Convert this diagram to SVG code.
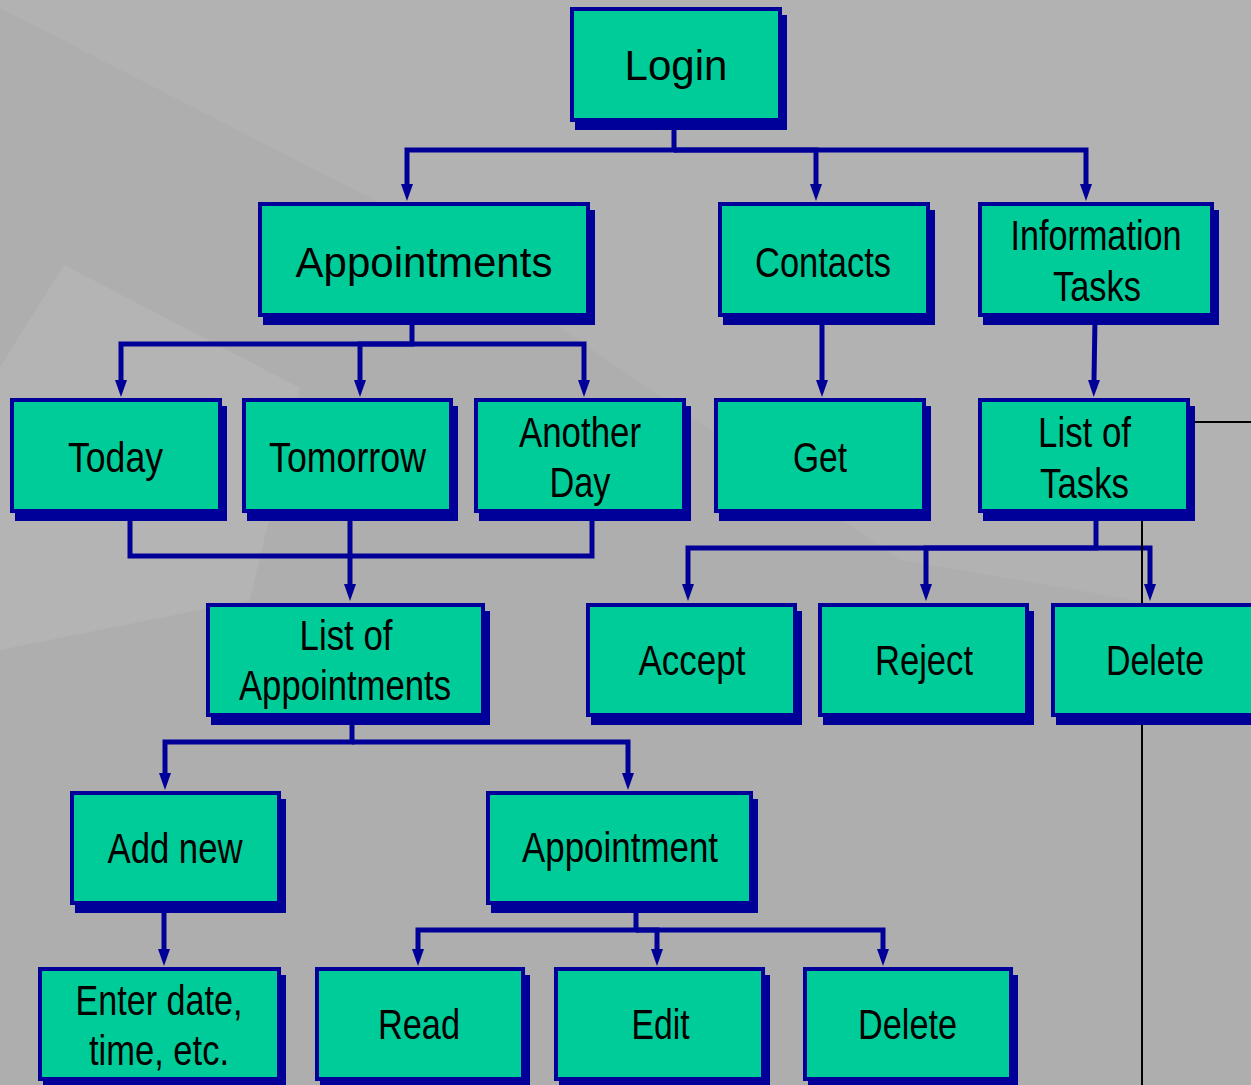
<svg xmlns="http://www.w3.org/2000/svg" width="1251" height="1085" viewBox="0 0 1251 1085">
<defs>
<style>
.bg{fill:#b2b2b2}
.wm{fill:#aeaeae}
.wl{fill:#b4b4b4}
.sh{fill:#000099}
.bx{fill:#00cc99;stroke:#000099;stroke-width:4}
.t{font-family:"Liberation Sans",Arial,sans-serif;font-size:42px;fill:#000;text-anchor:middle}
.c{fill:none;stroke:#000099;stroke-width:5;stroke-linejoin:miter}
.a{marker-end:url(#arr)}
.k{fill:none;stroke:#000;stroke-width:2}
</style>
<marker id="arr" markerUnits="userSpaceOnUse" markerWidth="18" markerHeight="14" viewBox="0 -7 18 14" refX="0" refY="0" orient="auto">
<path d="M0,-6 L17,0 L0,6 Z" fill="#000099"/>
</marker>
</defs>
<rect class="bg" x="0" y="0" width="1251" height="1085"/>
<g id="watermark">
<polygon class="wm" points="0,8 370,198 900,560 1251,620 1251,1085 0,1085"/>
<polygon class="wl" points="64,265 300,388 250,600 0,650 0,367"/>
</g>
<g id="connectors">
<path class="c a" d="M674,125 V150 H407 V184"/>
<path class="c a" d="M674,150 H816 V184"/>
<path class="c a" d="M674,150 H1086 V184"/>
<path class="c a" d="M412,318 V344 H121 V380"/>
<path class="c a" d="M412,344 H360 V380"/>
<path class="c a" d="M412,344 H584 V380"/>
<path class="c a" d="M822,318 V380"/>
<path class="c a" d="M1095,318 L1094,380"/>
<path class="c" d="M130,514 V556 H592 V514"/>
<path class="c a" d="M350,514 V584"/>
<path class="c a" d="M1096,514 V548 H688 V584"/>
<path class="c a" d="M1096,548 H926 V584"/>
<path class="c a" d="M1096,548 H1150 V584"/>
<path class="c a" d="M352,717 V742 H165 V773"/>
<path class="c a" d="M352,742 H628 V773"/>
<path class="c a" d="M164,905 V949"/>
<path class="c a" d="M636,905 V930 H418 V949"/>
<path class="c a" d="M636,930 H657 V949"/>
<path class="c a" d="M636,930 H883 V949"/>
<path class="k" d="M1251,422 H1142 V1085"/>
</g>
<g id="login"><rect class="sh" x="575" y="15" width="212" height="115"/><rect class="bx" x="572" y="9" width="208" height="111"/><text class="t" x="676" y="80" font-size="43">Login</text></g>
<g id="appointments"><rect class="sh" x="263" y="210" width="332" height="115"/><rect class="bx" x="260" y="204" width="328" height="111"/><text class="t" x="424" y="277" font-size="43">Appointments</text></g>
<g id="contacts"><rect class="sh" x="723" y="210" width="212" height="115"/><rect class="bx" x="720" y="204" width="208" height="111"/><text class="t" x="823" y="277" textLength="136" lengthAdjust="spacingAndGlyphs">Contacts</text></g>
<g id="information-tasks"><rect class="sh" x="983" y="210" width="236" height="115"/><rect class="bx" x="980" y="204" width="232" height="111"/><text class="t" x="1096" y="250" textLength="171" lengthAdjust="spacingAndGlyphs">Information</text><text class="t" x="1097" y="301" textLength="88" lengthAdjust="spacingAndGlyphs">Tasks</text></g>
<g id="today"><rect class="sh" x="15" y="406" width="212" height="115"/><rect class="bx" x="12" y="400" width="208" height="111"/><text class="t" x="115.5" y="472" textLength="95" lengthAdjust="spacingAndGlyphs">Today</text></g>
<g id="tomorrow"><rect class="sh" x="247" y="406" width="211" height="115"/><rect class="bx" x="244" y="400" width="207" height="111"/><text class="t" x="347.5" y="472" textLength="157" lengthAdjust="spacingAndGlyphs">Tomorrow</text></g>
<g id="another-day"><rect class="sh" x="479" y="406" width="212" height="115"/><rect class="bx" x="476" y="400" width="208" height="111"/><text class="t" x="580" y="447" textLength="122" lengthAdjust="spacingAndGlyphs">Another</text><text class="t" x="580" y="497" textLength="61" lengthAdjust="spacingAndGlyphs">Day</text></g>
<g id="get"><rect class="sh" x="719" y="406" width="212" height="115"/><rect class="bx" x="716" y="400" width="208" height="111"/><text class="t" x="820" y="472" textLength="54" lengthAdjust="spacingAndGlyphs">Get</text></g>
<g id="list-of-tasks"><rect class="sh" x="983" y="406" width="212" height="115"/><rect class="bx" x="980" y="400" width="208" height="111"/><text class="t" x="1084.5" y="447" textLength="93" lengthAdjust="spacingAndGlyphs">List of</text><text class="t" x="1084.5" y="498" textLength="89" lengthAdjust="spacingAndGlyphs">Tasks</text></g>
<g id="list-of-appointments"><rect class="sh" x="211" y="611" width="279" height="114"/><rect class="bx" x="208" y="605" width="275" height="110"/><text class="t" x="346" y="650" textLength="93" lengthAdjust="spacingAndGlyphs">List of</text><text class="t" x="345" y="700" textLength="212" lengthAdjust="spacingAndGlyphs">Appointments</text></g>
<g id="accept"><rect class="sh" x="591" y="611" width="211" height="114"/><rect class="bx" x="588" y="605" width="207" height="110"/><text class="t" x="692" y="675" textLength="107" lengthAdjust="spacingAndGlyphs">Accept</text></g>
<g id="reject"><rect class="sh" x="823" y="611" width="211" height="114"/><rect class="bx" x="820" y="605" width="207" height="110"/><text class="t" x="924" y="675" textLength="98" lengthAdjust="spacingAndGlyphs">Reject</text></g>
<g id="delete-task"><rect class="sh" x="1056" y="611" width="212" height="114"/><rect class="bx" x="1053" y="605" width="208" height="110"/><text class="t" x="1155" y="675" textLength="98" lengthAdjust="spacingAndGlyphs">Delete</text></g>
<g id="add-new"><rect class="sh" x="75" y="799" width="211" height="114"/><rect class="bx" x="72" y="793" width="207" height="110"/><text class="t" x="175" y="863" textLength="135" lengthAdjust="spacingAndGlyphs">Add new</text></g>
<g id="appointment"><rect class="sh" x="491" y="799" width="267" height="114"/><rect class="bx" x="488" y="793" width="263" height="110"/><text class="t" x="620" y="862" textLength="196" lengthAdjust="spacingAndGlyphs">Appointment</text></g>
<g id="enter-date"><rect class="sh" x="43" y="975" width="243" height="114"/><rect class="bx" x="40" y="969" width="239" height="110"/><text class="t" x="159" y="1015" textLength="167" lengthAdjust="spacingAndGlyphs">Enter date,</text><text class="t" x="159" y="1065" textLength="140" lengthAdjust="spacingAndGlyphs">time, etc.</text></g>
<g id="read"><rect class="sh" x="320" y="975" width="210" height="114"/><rect class="bx" x="317" y="969" width="206" height="110"/><text class="t" x="419" y="1039" textLength="82" lengthAdjust="spacingAndGlyphs">Read</text></g>
<g id="edit"><rect class="sh" x="559" y="975" width="211" height="114"/><rect class="bx" x="556" y="969" width="207" height="110"/><text class="t" x="660.5" y="1039" textLength="58" lengthAdjust="spacingAndGlyphs">Edit</text></g>
<g id="delete-appointment"><rect class="sh" x="808" y="975" width="210" height="114"/><rect class="bx" x="805" y="969" width="206" height="110"/><text class="t" x="907.5" y="1039" textLength="99" lengthAdjust="spacingAndGlyphs">Delete</text></g>
</svg>
